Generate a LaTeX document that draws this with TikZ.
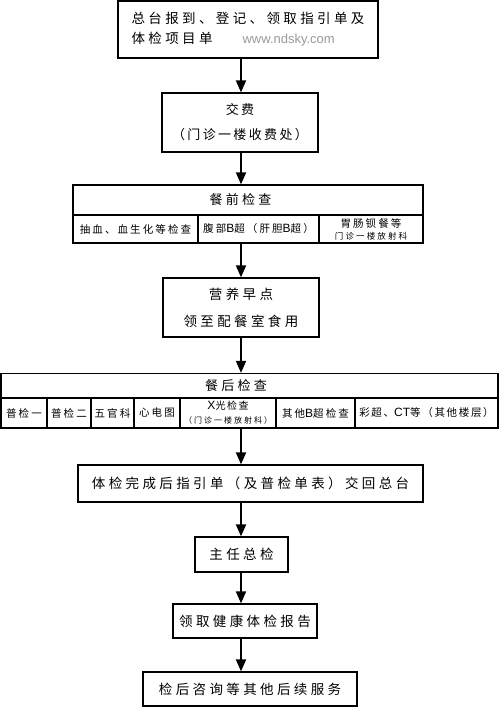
\documentclass[tikz,border=0pt]{standalone}
\usepackage{fontspec}
\setmainfont{Liberation Sans}
\newfontfamily\cjk[LetterSpace=25]{Noto Sans CJK SC}
\usetikzlibrary{arrows.meta}

\begin{document}
\begin{tikzpicture}[x=1pt, y=-1pt,
  box/.style={draw, line width=1.3pt, inner sep=0pt, align=center},
  big/.style={font=\fontsize{13.5}{20}\selectfont\cjk},
  head/.style={font=\fontsize{13}{16}\selectfont\cjk},
  cell/.style={font=\fontsize{10.5}{12}\selectfont\cjk\addfontfeature{LetterSpace=20}},
  flow/.style={line width=1.8pt, -{Triangle[length=12pt,width=10pt]}}]

  \useasboundingbox (0,0) rectangle (500,707);
  \newcommand\Lat[1]{{\rmfamily\fontsize{12}{12}\selectfont #1}};
  \newcommand\Tiny{\fontsize{8.5}{11}\selectfont\addfontfeature{LetterSpace=25}};

  \coordinate (axis) at (241,0);

  %% registration
  \node[box, big, align=left, minimum width=260pt, minimum height=57pt] (reg) at (248,29.5)
    {总台报到、登记、领取指引单及\\体检项目单\hspace{30pt}{\rmfamily\fontsize{13}{16}\selectfont\color[gray]{0.6}www.ndsky.com}};

  %% payment
  \node[box, font=\fontsize{13}{25}\selectfont\cjk\addfontfeature{LetterSpace=18},
    minimum width=156pt, minimum height=59pt] (pay) at (240,122.5)
    {交费\\（门诊一楼收费处）};

  %% before breakfast
  \node[box, head, minimum width=350pt, minimum height=30pt] (pre) at (248,200)
    {餐前检查\hspace{15pt}};
  \node[box, cell, minimum width=125pt, minimum height=28pt] (preA) at (135.5,229)
    {抽血、血生化等检查};
  \node[box, cell, minimum width=121pt, minimum height=28pt] (preB) at (258.5,229)
    {腹部\Lat{B}超（肝胆\Lat{B}超）};
  \node[box, cell, minimum width=104pt, minimum height=28pt] (preC) at (371,229)
    {胃肠钡餐等\\{\Tiny 门诊一楼放射科}};

  %% breakfast
  \node[box, font=\fontsize{13.5}{27}\selectfont\cjk,
    minimum width=156pt, minimum height=59pt] (meal) at (241,307.5)
    {营养早点\\领至配餐室食用};

  %% after breakfast
  \node[box, head, minimum width=497pt, minimum height=25pt] (post) at (249.5,386)
    {餐后检查\hspace{27pt}};
  \node[box, cell, minimum width=46pt, minimum height=30pt] (postA) at (24,413) {普检一};
  \node[box, cell, minimum width=44pt, minimum height=30pt] (postB) at (69,413) {普检二};
  \node[box, cell, minimum width=43pt, minimum height=30pt] (postC) at (112.5,413) {五官科};
  \node[box, cell, minimum width=46pt, minimum height=30pt] (postD) at (157,413) {心电图};
  \node[box, cell, font=\fontsize{10}{14}\selectfont\cjk\addfontfeature{LetterSpace=15},
    minimum width=96pt, minimum height=30pt] (postE) at (228,413)
    {\Lat{X}光检查\\{\fontsize{8}{10}\selectfont\addfontfeature{LetterSpace=25}（门诊一楼放射科）}};
  \node[box, cell, minimum width=79pt, minimum height=30pt] (postF) at (315.5,413)
    {其他\Lat{B}超检查};
  \node[box, cell, font=\fontsize{10.5}{12}\selectfont\cjk\addfontfeature{LetterSpace=16},
    minimum width=143pt, minimum height=30pt] (postG) at (426.5,413)
    {彩超、\Lat{CT}等（其他楼层）};

  %% remaining steps
  \node[box, big, minimum width=345pt, minimum height=37pt] (back) at (250.5,483.5)
    {体检完成后指引单（及普检单表）交回总台};
  \node[box, big, minimum width=93pt, minimum height=35pt] (chief) at (241.5,554.5)
    {主任总检};
  \node[box, big, minimum width=144pt, minimum height=34pt] (report) at (245,621)
    {领取健康体检报告};
  \node[box, big, minimum width=214pt, minimum height=34pt] (service) at (250,689)
    {检后咨询等其他后续服务};

  %% arrows
  \draw[flow] (reg.south -| axis) -- (pay.north -| axis); % reg->pay
  \draw[flow] (pay.south -| axis) -- (pre.north -| axis); % pay->pre
  \draw[flow] (preB.south -| axis) -- (meal.north -| axis); % pre->meal
  \draw[flow] (meal.south -| axis) -- (post.north -| axis); % meal->post
  \draw[flow] (postE.south -| axis) -- (back.north -| axis); % post->back
  \draw[flow] (back.south -| axis) -- (chief.north -| axis); % back->chief
  \draw[flow] (chief.south -| axis) -- (report.north -| axis); % chief->report
  \draw[flow] (report.south -| axis) -- (service.north -| axis); % report->service

\end{tikzpicture}
\end{document}
